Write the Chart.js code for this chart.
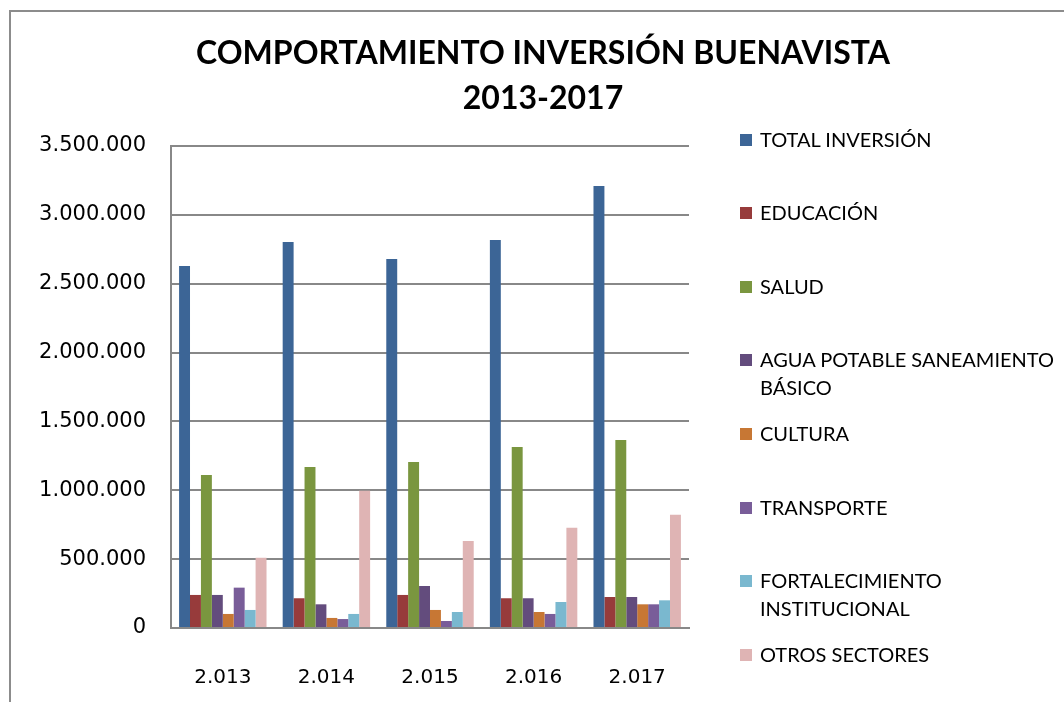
<!DOCTYPE html>
<html lang="es">
  <head>
    <meta charset="UTF-8" />
    <title>Comportamiento inversión Buenavista</title>
    <script src="https://cdn.jsdelivr.net/npm/chart.js"></script>
    <style>
      body { margin: 0; background: #fff; }
      #wrap { position: relative; width: 1064px; height: 702px; overflow: hidden; }
      #frame { position: absolute; left: 9px; top: 10px; right: -5px; bottom: -5px;
               border-top: 2px solid #8c8c8c; border-left: 2px solid #8c8c8c; }
      #title { position: absolute; left: 0; width: 1086px; top: 29px; text-align: center;
               font: bold 32px Lato, sans-serif; line-height: 45px; color: #000; }
      #legend { position: absolute; left: 740px; top: 0; font: 20px Lato, sans-serif; color: #000; }
      .item { position: absolute; left: 0; width: 324px; line-height: 27.5px; }
      .box { position: absolute; left: 0; top: 8px; width: 12px; height: 12px; }
      .txt { position: absolute; left: 20px; width: 304px; }
      canvas { position: absolute; left: 0; top: 0; }
    </style>
  </head>
  <body>
    <div id="wrap">
      <div id="frame"></div>
      <canvas id="chart" width="1064" height="702"></canvas>
      <div id="title">COMPORTAMIENTO INVERSIÓN BUENAVISTA<br />2013-2017</div>
      <div id="legend"></div>
    </div>
    <script>
      const years = ["2.013", "2.014", "2.015", "2.016", "2.017"];
      const sectors = ["TOTAL INVERSIÓN", "EDUCACIÓN", "SALUD", "AGUA POTABLE SANEAMIENTO BÁSICO",
                       "CULTURA", "TRANSPORTE", "FORTALECIMIENTO INSTITUCIONAL", "OTROS SECTORES"];
      const totalInversion = [2628000, 2803000, 2679000, 2817000, 3209000];
      const educacion = [240000, 216000, 240000, 216000, 225000];
      const salud = [1111000, 1169000, 1205000, 1314000, 1365000];
      const agua = [240000, 172000, 305000, 216000, 225000];
      const cultura = [102000, 73000, 131000, 116000, 172000];
      const transporte = [293000, 65000, 51000, 102000, 172000];
      const fortalecimiento = [131000, 102000, 116000, 189000, 201000];
      const otros = [510000, 997000, 632000, 728000, 823000];
      const colors = ["#3c6596", "#973b3b", "#7a963f", "#634c7d", "#c77734", "#795d99", "#7ab8cf", "#dfb4b4"];

      const series = [totalInversion, educacion, salud, agua, cultura, transporte, fortalecimiento, otros];
      const datasets = series.map((data, i) => ({
        label: sectors[i],
        data,
        backgroundColor: colors[i],
        borderWidth: 0,
        categoryPercentage: 0.844,
        barPercentage: 1.0,
      }));

      const fmt = (v) => String(v).replace(/\B(?=(\d{3})+(?!\d))/g, ".");

      new Chart(document.getElementById("chart"), {
        type: "bar",
        data: { labels: years, datasets },
        options: {
          responsive: false,
          animation: false,
          layout: { padding: { top: 146, right: 375, bottom: 0, left: 0 } },
          plugins: { legend: { display: false }, title: { display: false }, tooltip: { enabled: false } },
          scales: {
            x: {
              grid: { display: false },
              border: { display: true, color: "#888", width: 2 },
              ticks: { color: "#000", font: { family: "DejaVu Sans", size: 20 }, padding: 30 },
              afterFit: (s) => { s.height = 74; },
            },
            y: {
              min: 0,
              max: 3500000,
              ticks: { stepSize: 500000, color: "#000", font: { family: "DejaVu Sans", size: 21 },
                       padding: 25, callback: (v) => fmt(v) },
              grid: { color: "#888", lineWidth: 2, drawTicks: false },
              border: { display: true, color: "#888", width: 2 },
              afterFit: (s) => { s.width = 171; },
            },
          },
        },
      });

      const legend = document.getElementById("legend");
      sectors.forEach((name, i) => {
        const item = document.createElement("div");
        item.className = "item";
        item.style.top = (139.5 + i * 73.6 - 14) + "px";
        item.innerHTML = '<span class="box" style="background:' + colors[i] + '"></span><span class="txt">' + name + "</span>";
        legend.appendChild(item);
      });
    </script>
  </body>
</html>
